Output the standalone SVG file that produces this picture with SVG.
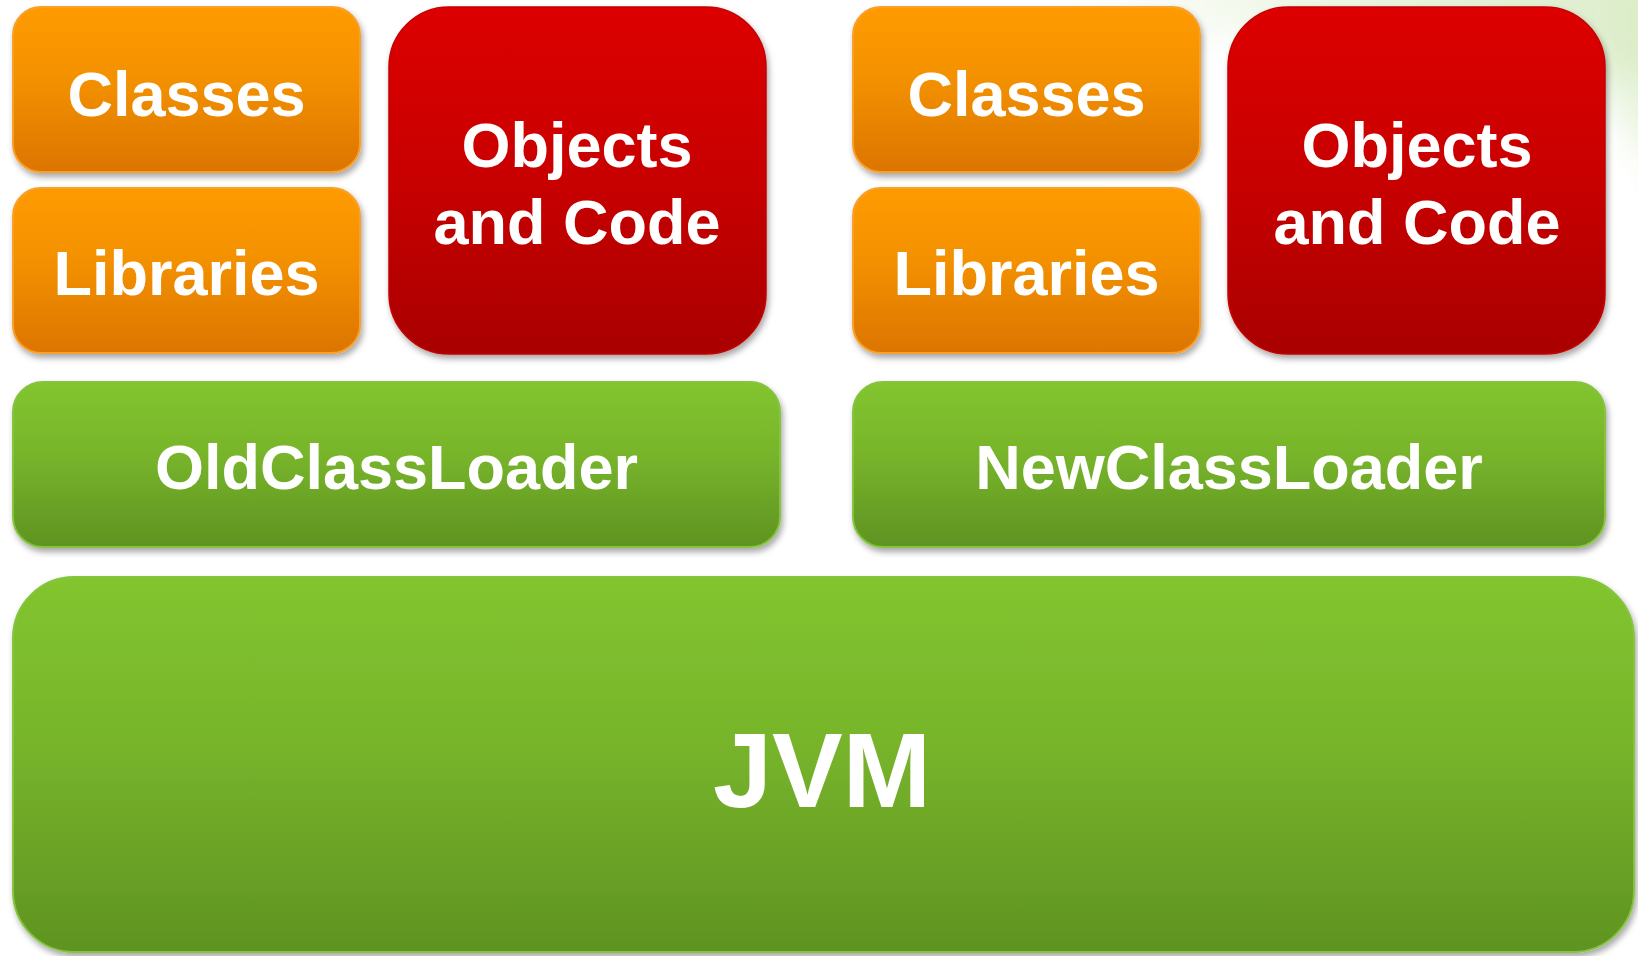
<svg xmlns="http://www.w3.org/2000/svg" width="1638" height="956" viewBox="0 0 1638 956">
  <defs>
    <linearGradient id="gOrange" x1="0" y1="0" x2="0" y2="1">
      <stop offset="0" stop-color="#FF9B00"/>
      <stop offset="0.45" stop-color="#F39000"/>
      <stop offset="1" stop-color="#DC7500"/>
    </linearGradient>
    <linearGradient id="gRed" x1="0" y1="0" x2="0" y2="1">
      <stop offset="0" stop-color="#DD0000"/>
      <stop offset="0.5" stop-color="#C80000"/>
      <stop offset="1" stop-color="#A90000"/>
    </linearGradient>
    <linearGradient id="gGreen" x1="0" y1="0" x2="0" y2="1">
      <stop offset="0" stop-color="#82C52F"/>
      <stop offset="0.45" stop-color="#77B42B"/>
      <stop offset="1" stop-color="#5F9322"/>
    </linearGradient>
    <linearGradient id="gBg" x1="0" y1="0" x2="1" y2="0">
      <stop offset="0" stop-color="#E4F1D6" stop-opacity="0"/>
      <stop offset="0.5" stop-color="#E4F1D6" stop-opacity="0.8"/>
      <stop offset="1" stop-color="#D6EAC0" stop-opacity="1"/>
    </linearGradient>
    <filter id="blur" x="-20%" y="-50%" width="140%" height="200%">
      <feGaussianBlur stdDeviation="18"/>
    </filter>
    <filter id="shadow" x="-5%" y="-5%" width="115%" height="120%">
      <feDropShadow dx="2" dy="4" stdDeviation="3" flood-color="#000" flood-opacity="0.35"/>
    </filter>
  </defs>
  <style>
    .orange { fill: url(#gOrange); stroke: #F9A02A; stroke-width: 2; filter: url(#shadow); }
    .red { fill: url(#gRed); stroke: #C40000; stroke-width: 1.5; filter: url(#shadow); }
    .green { fill: url(#gGreen); stroke: #86C440; stroke-width: 2; filter: url(#shadow); }
    .lbl { font-family: "Liberation Sans", Arial, sans-serif; font-weight: bold; fill: #FFFFFF; text-anchor: middle; font-size: 63px; }
    .big { font-size: 106px; }
  </style>

  <rect width="1638" height="956" fill="#FFFFFF"/>
  <g filter="url(#blur)">
    <path d="M1050,-40 L1700,-40 L1700,90 C1560,60 1300,40 1050,20 Z" fill="url(#gBg)"/>
    <path d="M1450,-40 L1700,-40 L1700,240 C1660,150 1580,70 1450,-40 Z" fill="url(#gBg)" opacity="0.7"/>
  </g>

  <g id="classes-left">
    <rect class="orange" x="13" y="7" width="347" height="165" rx="28"/>
    <text class="lbl" x="186.5" y="116">Classes</text>
  </g>
  <g id="libraries-left">
    <rect class="orange" x="13" y="188" width="347" height="165" rx="28"/>
    <text class="lbl" x="186.5" y="295">Libraries</text>
  </g>
  <g id="objects-left">
    <rect class="red" x="389" y="7" width="377" height="347" rx="60"/>
    <text class="lbl" x="577" y="167">Objects</text>
    <text class="lbl" x="577" y="244">and Code</text>
  </g>

  <g id="classes-right">
    <rect class="orange" x="853" y="7" width="347" height="165" rx="28"/>
    <text class="lbl" x="1026.5" y="116">Classes</text>
  </g>
  <g id="libraries-right">
    <rect class="orange" x="853" y="188" width="347" height="165" rx="28"/>
    <text class="lbl" x="1026.5" y="295">Libraries</text>
  </g>
  <g id="objects-right">
    <rect class="red" x="1228" y="7" width="377" height="347" rx="60"/>
    <text class="lbl" x="1417" y="167">Objects</text>
    <text class="lbl" x="1417" y="244">and Code</text>
  </g>

  <g id="old-classloader">
    <rect class="green" x="13" y="382" width="767" height="165" rx="30"/>
    <text class="lbl" x="396.5" y="489">OldClassLoader</text>
  </g>
  <g id="new-classloader">
    <rect class="green" x="853" y="382" width="752" height="165" rx="30"/>
    <text class="lbl" x="1229" y="489">NewClassLoader</text>
  </g>

  <g id="jvm">
    <rect class="green" x="13" y="577" width="1621" height="375" rx="61"/>
    <text class="lbl big" x="822" y="807">JVM</text>
  </g>

  <g id="connectors"></g>
</svg>
